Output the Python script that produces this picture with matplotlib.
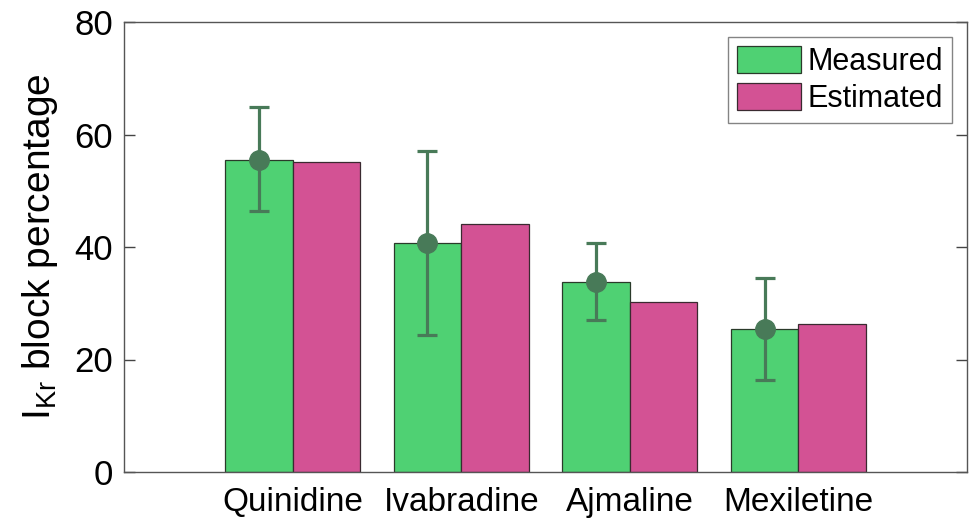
import matplotlib
matplotlib.use("Agg")
import matplotlib.pyplot as plt
import numpy as np

categories = ["Quinidine", "Ivabradine", "Ajmaline", "Mexiletine"]
measured = [55.5, 40.7, 33.8, 25.4]
estimated = [55.1, 44.1, 30.2, 26.3]
err_upper = [64.9, 57.1, 40.7, 34.5]
err_lower = [46.4, 24.4, 27.0, 16.4]

plt.rcParams['font.family'] = ['Liberation Sans', 'DejaVu Sans']

fig = plt.figure(figsize=(9.69, 5.22), dpi=100)
ax = fig.add_axes([124/969, 50/522, 843/969, 450/522])

x = np.arange(1, len(categories) + 1)
w = 0.4
green = "#4fd173"
magenta = "#d35294"
ax.bar(x - w/2, measured, w, color=green, edgecolor="#2a3a2a", linewidth=0.9, label="Measured", zorder=2)
ax.bar(x + w/2, estimated, w, color=magenta, edgecolor="#3a2a30", linewidth=0.9, label="Estimated", zorder=2)

m = np.array(measured)
yerr = np.vstack([m - np.array(err_lower), np.array(err_upper) - m])
ax.errorbar(x - w/2, m, yerr=yerr, fmt='o', color="#487a58", ecolor="#487a58",
            markersize=14, elinewidth=2.3, capsize=7, capthick=2.3, zorder=3)

ax.set_xlim(0, 5)
ax.set_ylim(0, 80)
ax.set_yticks([0, 20, 40, 60, 80])
ax.set_xticks(x)
ax.set_xticklabels(categories)
ax.tick_params(axis='y', direction='in', length=8, width=1, color="#444444",
               labelsize=25, right=True, pad=8)
ax.tick_params(axis='x', length=0, labelsize=24, pad=11)
for s in ax.spines.values():
    s.set_color("#555555")
    s.set_linewidth(1)

ax.set_ylabel(r"I$_{\mathregular{Kr}}$ block percentage", fontsize=28, labelpad=10)

leg = ax.legend(loc="upper right", fontsize=22, frameon=True, fancybox=False,
                edgecolor="#666666", handlelength=2.1, handleheight=0.95,
                borderaxespad=0.5, borderpad=0.3, handletextpad=0.2, labelspacing=0.2)
leg.get_frame().set_linewidth(1)

fig.savefig("out.png", dpi=100)
